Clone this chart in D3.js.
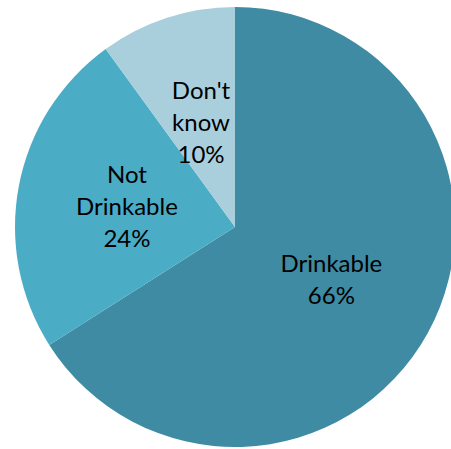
<!DOCTYPE html>
<html>
<head>
<meta charset="utf-8">
<script src="https://cdn.jsdelivr.net/npm/d3@7"></script>
<style>
  html, body { margin: 0; padding: 0; background: #fff; }
  svg { display: block; }
</style>
</head>
<body>
<svg id="chart" width="451" height="449"></svg>
<script>
// Survey answers: is the water drinkable?
const categories = ["Drinkable", "Not Drinkable", "Don't know"];
const shares = [66, 24, 10];
const labelLines = [["Drinkable", "66%"], ["Not", "Drinkable", "24%"], ["Don't", "know", "10%"]];
const colors = ["#3e8ba3", "#4bacc6", "#a9cfdc"];

const svg = d3.select("#chart");
const cx = 235, cy = 227, radius = 220;

const data = categories.map((c, i) => ({ name: c, value: shares[i], lines: labelLines[i], color: colors[i] }));

const pie = d3.pie().value(d => d.value).sort(null);
const arc = d3.arc().innerRadius(0).outerRadius(radius);

const g = svg.append("g").attr("transform", `translate(${cx},${cy})`);

const slices = g.selectAll("g.slice").data(pie(data)).join("g").attr("class", "slice");

slices.append("path")
  .attr("d", arc)
  .attr("fill", d => d.data.color);

const lineH = 32;
slices.append("text")
  .attr("transform", d => `translate(${arc.centroid(d)})`)
  .attr("text-anchor", "middle")
  .attr("font-family", "Lato, 'Open Sans', sans-serif")
  .attr("font-size", 24)
  .attr("fill", "#000")
  .each(function(d) {
    const n = d.data.lines.length;
    const t = d3.select(this);
    d.data.lines.forEach((line, i) => {
      t.append("tspan")
        .attr("x", 0)
        .attr("y", (i - (n - 1) / 2) * lineH)
        .attr("dy", "0.35em")
        .text(line);
    });
  });
</script>
</body>
</html>
